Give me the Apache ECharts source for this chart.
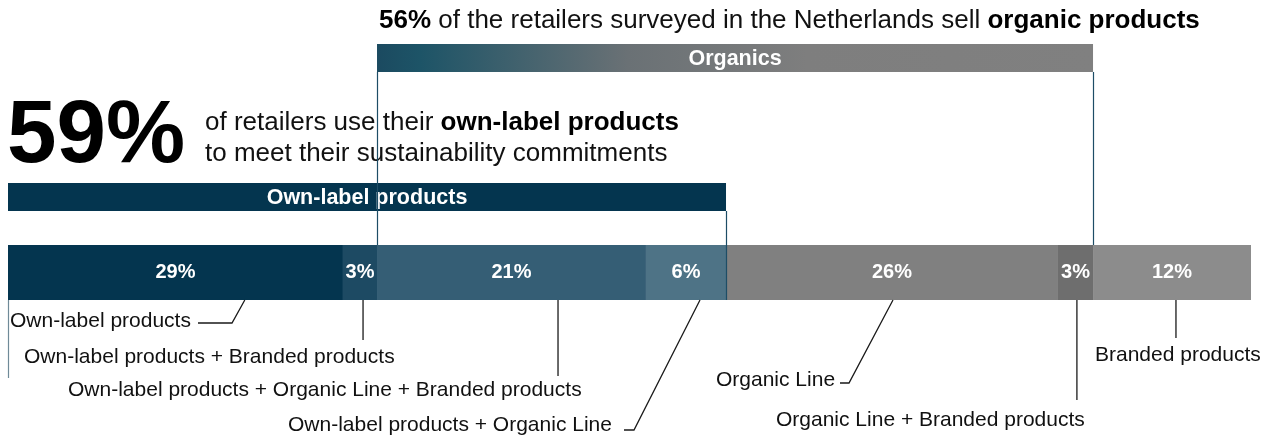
<!DOCTYPE html>
<html>
<head>
<meta charset="utf-8">
<script src="https://cdn.jsdelivr.net/npm/echarts@6/dist/echarts.min.js"></script>
<style>
  html, body { margin: 0; padding: 0; background: #fff; }
  #chart { width: 1272px; height: 438px; }
</style>
</head>
<body>
<div id="chart"></div>
<script>
  // segments of the single stacked bar, left to right
  const segmentNames = [
    "Own-label products",
    "Own-label products + Branded products",
    "Own-label products + Organic Line + Branded products",
    "Own-label products + Organic Line",
    "Organic Line",
    "Organic Line + Branded products",
    "Branded products"
  ];
  const segmentLabels = ["29%", "3%", "21%", "6%", "26%", "3%", "12%"];
  // drawn widths, as measured on the picture (share of the full bar)
  const segmentWidths = [26.95, 2.74, 21.64, 6.44, 26.71, 2.82, 12.71];

  // bracketed groups: first and last segment index
  const groupNames = ["Own-label products", "Organics"];
  const groupSpans = [[0, 3], [2, 5]];

  const headlineTop = "{b|56%} of the retailers surveyed in the Netherlands sell {b|organic products}";
  const bigFigure = "59%";
  const bigFigureText = ["of retailers use their {b|own-label products}", "to meet their sustainability commitments"];

  const FONT = "'Liberation Sans', Arial, Helvetica, sans-serif";
  const segColors = ["#04354f", "#1d4a63", "#355e75", "#4e7386", "#808080", "#6e6e6e", "#8c8c8c"];
  const BAR_TOP = 245, BAR_H = 55, BAR_BOTTOM = BAR_TOP + BAR_H;

  const starts = [];
  segmentWidths.reduce((acc, w, i) => { starts[i] = acc; return acc + w; }, 0);
  const total = segmentWidths.reduce((a, b) => a + b, 0);

  const groupLayout = [
    { top: 183, h: 28, fill: "#04354f", lines: [["end", 211, BAR_BOTTOM], ["start", BAR_BOTTOM, 378]], lineColor: ["#1d4d66", "#6f8a98"] },
    {
      top: 44, h: 28,
      fill: { type: "linear", x: 0, y: 0, x2: 1, y2: 0, colorStops: [
        { offset: 0, color: "#1b4a60" }, { offset: 0.06, color: "#1d5467" },
        { offset: 0.35, color: "#6a7175" }, { offset: 0.6, color: "#7e7e7e" }, { offset: 1, color: "#808080" }] },
      lines: [["start", 72, BAR_TOP], ["end", 72, BAR_TOP]], lineColor: ["#1d4d66", "#1d4d66"]
    }
  ];

  // leader lines: anchor as fraction along the segment, label spot and bends (px)
  const leaderLayout = [
    { frac: 0.707, tx: 10, ty: 321, pts: [[198, 323], [232, 323]] },
    { frac: 0.59, tx: 24, ty: 357, pts: [[null, 340]] },
    { frac: 0.673, tx: 68, ty: 390, pts: [[null, 376]] },
    { frac: 0.675, tx: 288, ty: 425, pts: [[624, 430], [634, 430]] },
    { frac: 0.503, tx: 716, ty: 380, pts: [[840, 383], [849, 383]] },
    { frac: 0.54, tx: 776, ty: 420, pts: [[null, 400]] },
    { frac: 0.525, tx: 1095, ty: 355, pts: [[null, 338]] }
  ];

  const chart = echarts.init(document.getElementById("chart"), null, { renderer: "canvas" });

  const barSeries = segmentWidths.map((w, i) => ({
    name: segmentNames[i],
    type: "bar",
    stack: "all",
    barWidth: "100%",
    data: [w],
    itemStyle: { color: segColors[i] },
    label: {
      show: true, position: "inside", formatter: segmentLabels[i],
      color: "#fff", fontWeight: "bold", fontSize: 20, fontFamily: FONT
    },
    silent: true
  }));

  function renderGroup(params, api) {
    const L = groupLayout[params.dataIndex];
    const x0 = api.coord([api.value(0), 0])[0];
    const x1 = api.coord([api.value(1), 0])[0];
    const children = [
      { type: "rect", shape: { x: x0, y: L.top, width: x1 - x0, height: L.h }, style: { fill: L.fill } },
      {
        type: "text",
        style: {
          text: groupNames[params.dataIndex], x: (x0 + x1) / 2, y: L.top + L.h / 2 + 1,
          align: "center", verticalAlign: "middle", fill: "#fff",
          font: "bold 21.5px " + FONT
        }
      }
    ];
    L.lines.forEach((ln, k) => {
      const x = Math.round(ln[0] === "start" ? x0 : x1) + 0.5;
      children.push({
        type: "line", shape: { x1: x, y1: ln[1], x2: x, y2: ln[2] },
        style: { stroke: L.lineColor[k], lineWidth: 1.2 }
      });
    });
    return { type: "group", children };
  }

  function renderLeader(params, api) {
    const i = params.dataIndex;
    const L = leaderLayout[i];
    const ax = api.coord([api.value(0) + L.frac * api.value(1), 0])[0];
    const points = L.pts.map((p) => [p[0] === null ? ax : p[0], p[1]]);
    points.push([ax, BAR_BOTTOM]);
    return {
      type: "group",
      children: [
        { type: "polyline", shape: { points }, style: { stroke: "#1a1a1a", lineWidth: 1.3, fill: null } },
        {
          type: "text",
          style: {
            text: segmentNames[i], x: L.tx, y: L.ty, align: "left", verticalAlign: "middle",
            fill: "#111", font: "21px " + FONT
          }
        }
      ]
    };
  }

  chart.setOption({
    animation: false,
    grid: { left: 8, right: 21, top: BAR_TOP, height: BAR_H },
    xAxis: { type: "value", min: 0, max: total, show: false },
    yAxis: { type: "category", data: ["share"], show: false },
    series: barSeries.concat([
      {
        type: "custom", name: "groups", renderItem: renderGroup, z: 5, silent: true,
        encode: { x: [0, 1], y: 2 },
        data: groupSpans.map(([a, b]) => [starts[a], starts[b] + segmentWidths[b], 0])
      },
      {
        type: "custom", name: "leaders", renderItem: renderLeader, z: 6, silent: true,
        encode: { x: 0, y: 2 },
        data: segmentWidths.map((w, i) => [starts[i], w, 0])
      }
    ]),
    graphic: [
      {
        type: "text", left: 379, top: 8,
        style: {
          text: headlineTop, fill: "#111", font: "26px " + FONT,
          rich: { b: { fontWeight: "bold", fontSize: 26, fontFamily: FONT, fill: "#000" } }
        }
      },
      {
        type: "text", left: 7, top: 93,
        style: { text: bigFigure, fill: "#000", font: "bold 89px " + FONT }
      },
      {
        type: "text", left: 205, top: 110,
        style: {
          text: bigFigureText[0], fill: "#111", font: "26px " + FONT,
          rich: { b: { fontWeight: "bold", fontSize: 26, fontFamily: FONT, fill: "#000" } }
        }
      },
      {
        type: "text", left: 205, top: 141,
        style: { text: bigFigureText[1], fill: "#111", font: "26px " + FONT }
      }
    ]
  });
</script>
</body>
</html>
